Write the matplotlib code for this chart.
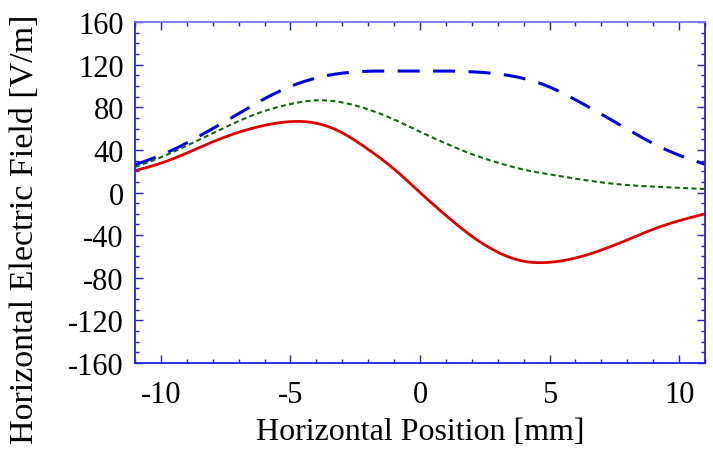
import matplotlib
matplotlib.use("Agg")
import matplotlib.pyplot as plt
from matplotlib.ticker import MultipleLocator
import numpy as np

x_pos = [-11, -10, -9, -8, -7, -6, -5, -4, -3, -2, -1, 0, 1, 2, 3, 4, 5, 6, 7, 8, 9, 10, 11]
red_field = [20.5, 27.5, 37, 47.5, 56.5, 63, 66.5, 65, 56, 40.5, 22, 0,
             -21.5, -41, -56, -64.5, -65.5, -61.5, -54, -44.5, -34.5, -26.5, -20]
green_field = [24, 33, 44, 55.5, 67, 76.5, 83, 86.5, 84.5, 78, 68.5, 57,
               46, 36, 28, 21.5, 17, 13, 9.5, 7, 5.5, 4.5, 3.3]
blue_field = [26, 35, 46.5, 60, 74, 88, 99.5, 107.5, 112, 113.8, 114, 114,
              114, 113.3, 111.3, 107, 99, 87, 73.5, 59.5, 46, 35, 26.5]

x_ticks = [-10, -5, 0, 5, 10]
y_ticks = [-160, -120, -80, -40, 0, 40, 80, 120, 160]

plt.rcParams['font.family'] = ['Liberation Serif', 'DejaVu Serif']
plt.rcParams['axes.unicode_minus'] = False

def smooth(xs, ys, n=400):
    xs = np.asarray(xs, float); ys = np.asarray(ys, float)
    xf = np.linspace(xs[0], xs[-1], n)
    h = np.diff(xs)
    nn = len(xs)
    A = np.zeros((nn, nn)); b = np.zeros(nn)
    A[0, 0] = 1; A[-1, -1] = 1
    for i in range(1, nn - 1):
        A[i, i - 1] = h[i - 1]; A[i, i] = 2 * (h[i - 1] + h[i]); A[i, i + 1] = h[i]
        b[i] = 3 * ((ys[i + 1] - ys[i]) / h[i] - (ys[i] - ys[i - 1]) / h[i - 1])
    c = np.linalg.solve(A, b)
    bb = (ys[1:] - ys[:-1]) / h - h * (2 * c[:-1] + c[1:]) / 3
    d = (c[1:] - c[:-1]) / (3 * h)
    idx = np.clip(np.searchsorted(xs, xf) - 1, 0, nn - 2)
    t = xf - xs[idx]
    yf = ys[idx] + bb[idx] * t + c[idx] * t ** 2 + d[idx] * t ** 3
    return xf, yf

fig = plt.figure(figsize=(7.13, 4.52), dpi=100)
ax = fig.add_axes([0.1893, 0.1947, 0.7995, 0.7544])

xf, yb = smooth(x_pos, blue_field)
ax.plot(xf, yb, color='#0000dd', lw=2.2, dashes=(7.2, 4.4))
xf, yg = smooth(x_pos, green_field)
ax.plot(xf, yg, color='#116611', lw=1.5, dashes=(2.4, 1.6))
xf, yr = smooth(x_pos, red_field)
ax.plot(xf, yr, color='#dd0000', lw=2.0)

ax.set_xlim(-11, 11)
ax.set_ylim(-160, 160)
ax.set_xticks(x_ticks)
ax.set_yticks(y_ticks)
ax.xaxis.set_minor_locator(MultipleLocator(1))
ax.yaxis.set_minor_locator(MultipleLocator(10))
ax.tick_params(which='both', direction='in', top=True, right=True, color='#2222dd', labelsize=22, width=1.0)
ax.tick_params(which='major', length=6)
ax.tick_params(which='minor', length=3)
ax.tick_params(axis='x', pad=12)
ax.tick_params(axis='y', pad=8)
for s in ['left', 'bottom', 'right']:
    ax.spines[s].set_color('#2222dd')
ax.spines['top'].set_color('#7777ee')
for s in ax.spines.values():
    s.set_linewidth(1.3)

ax.set_xlabel('Horizontal Position [mm]', fontsize=23, labelpad=6)
ax.set_ylabel('Horizontal Electric Field [V/m]', fontsize=24.5)
ax.yaxis.set_label_coords(-0.1667, 0.396)

fig.savefig('out.png', dpi=100)
